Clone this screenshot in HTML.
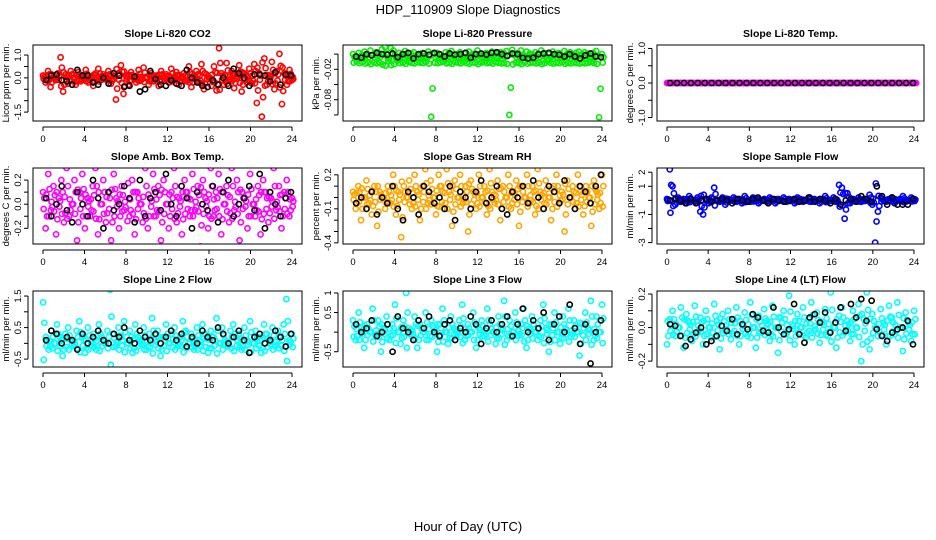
<!DOCTYPE html>
<html><head><meta charset="utf-8">
<style>
body{margin:0;background:#fff;}
svg{display:block;font-family:"Liberation Sans",Arial,sans-serif;}
.t{font-size:10.5px;font-weight:bold;text-anchor:middle;}
.tk{font-size:9.5px;}
</style></head>
<body>
<svg id="chart" width="936" height="540" viewBox="0 0 936 540">
<rect width="936" height="540" fill="#fff"/>
<text x="468" y="14" font-size="13" text-anchor="middle">HDP_110909  Slope Diagnostics</text>
<text x="468" y="531" font-size="13" text-anchor="middle">Hour of Day (UTC)</text>
</svg>
<script>
const xTicks=[0,4,8,12,16,20,24];
const p1Color=[0.1,-0.2,0.3,-0.4,0.05,-0.1,0.2,0.9,-0.6,0.15,-0.25,0.3,0.0,-0.3,0.25,-0.15,0.1,0.35,-0.2,0.05,-0.35,0.2,0.4,-0.1,0.15,-0.05,0.3,-0.25,0.1,-0.95,0.2,0.55,-0.7,0.1,-0.3,0.25,0.0,-0.2,0.35,-0.1,0.45,0.05,-0.3,0.2,-0.15,0.1,-0.35,0.3,0.0,0.15,-0.2,0.4,-0.1,0.25,-0.3,0.05,0.2,-0.15,0.5,-0.4,0.1,0.3,-0.2,0.6,-0.5,0.15,0.0,-0.35,0.5,-0.55,1.3,0.2,-0.3,0.65,-0.1,0.3,-0.45,0.1,0.55,-0.6,0.2,-0.2,0.4,-0.25,0.6,-1.1,0.2,-1.7,0.85,-0.3,0.1,0.7,-0.5,0.3,1.05,-1.15,0.2,-0.3,0.35,-0.1];
const p1Black=[-0.1,0.1,0.15,-0.1,-0.15,-0.3,0.35,0.1,0.1,-0.2,-0.3,0.0,-0.25,0.2,0.1,-0.4,-0.35,0.05,-0.6,-0.5,0.3,-0.05,-0.3,-0.35,-0.1,-0.25,-0.35,0.35,0.0,-0.2,-0.35,-0.4,-0.1,-0.3,0.0,-0.35,0.4,0.2,0.0,-0.35,0.15,0.15,0.1,-0.15,0.25,-0.3,0.15,0.1];
const p2Color=[0.01,0.006,0.012,0.008,0.014,0.01,0.016,0.009,0.013,0.011,0.018,0.022,0.004,0.02,0.016,0.002,0.012,0.01,0.015,0.006,0.011,0.013,0.008,0.01,0.012,0.007,0.014,-0.093,0.01,0.012,0.009,0.004,0.013,0.011,0.015,0.008,0.01,0.013,0.006,0.012,0.014,0.009,0.011,0.016,0.01,0.007,0.012,0.01,0.014,0.008,0.011,0.013,0.012,0.015,-0.09,0.017,0.01,0.012,0.016,0.008,0.014,0.011,0.009,0.013,0.01,0.016,0.012,0.003,0.011,0.014,0.01,0.012,0.008,0.015,0.011,0.013,0.009,0.012,0.014,0.01,0.013,0.011,0.007,0.012,0.015,-0.094,0.01];
const p2Black=[0.006,0.004,0.01,0.008,0.012,0.01,0.009,0.011,0.005,0.01,0.012,0.003,0.01,0.011,0.009,0.012,0.01,0.006,0.011,0.009,0.01,0.012,0.004,0.01,0.011,0.009,0.012,0.013,0.01,0.007,0.011,0.01,0.004,0.003,0.004,0.01,0.011,0.012,0.01,0.009,0.006,0.01,0.006,0.003,0.008,0.011,0.006,0.005];
const p3Color=[0,0,0,0,0,0,0,0,0,0,0,0,0,0,0,0,0,0,0,0,0,0,0,0,0,0,0,0,0,0,0,0,0,0,0,0,0,0,0,0,0,0,0,0,0,0,0,0,0,0,0,0,0,0,0,0,0,0,0,0];
const p3Black=[0,0,0,0,0,0,0,0,0,0,0,0,0,0,0,0,0,0,0,0,0,0,0,0,0,0,0,0,0,0,0,0,0,0,0,0];
const p4Color=[0.1,-0.2,0.25,-0.05,0.15,-0.25,0.05,0.2,-0.15,0.3,-0.1,0.0,0.2,-0.3,0.1,0.25,-0.2,0.05,-0.1,0.15,0.3,-0.25,0.0,0.2,-0.15,0.1,-0.3,0.25,0.05,-0.2,0.15,-0.05,0.35,-0.1,0.2,-0.25,0.1,0.0,-0.15,0.3,-0.2,0.05,0.25,-0.1,0.15,-0.3,0.2,0.0,-0.2,0.1,0.3,-0.15,0.05,-0.25,0.2,0.1,-0.1,0.25,-0.05,0.15,-0.35,0.2,0.05,-0.2,0.3,-0.1,0.1,0.25,-0.25,0.0,0.15,-0.15,0.3,-0.05,0.2,-0.3,0.1,0.05,-0.2,0.25,0.0,-0.1,0.15,-0.25,0.2,0.1,-0.15,0.05,0.3,-0.05,0.15,-0.2,0.1,0.2,-0.1,0.05];
const p4Black=[0.05,-0.1,0.0,0.15,-0.05,-0.15,0.1,0.0,-0.1,0.2,0.05,-0.2,0.1,-0.05,0.0,0.15,0.05,-0.15,0.2,-0.1,0.05,0.1,-0.05,0.25,0.0,-0.1,0.15,0.05,-0.2,0.1,0.0,-0.05,0.15,-0.15,0.1,0.2,-0.1,0.0,0.05,0.15,-0.05,0.25,-0.2,0.1,0.0,-0.1,0.05,0.1];
const p5Color=[0.05,-0.1,0.1,-0.2,0.0,0.15,-0.05,-0.15,0.1,-0.25,0.05,0.0,-0.1,0.1,-0.05,0.2,-0.15,0.05,-0.35,0.1,0.0,0.15,-0.1,0.2,0.05,-0.2,0.1,0.25,-0.05,0.15,0.0,-0.15,0.2,0.1,-0.1,0.25,0.05,-0.25,0.15,0.0,0.2,-0.05,0.1,-0.3,0.15,0.05,-0.1,0.2,0.0,0.1,-0.15,0.25,0.05,-0.05,0.15,-0.2,0.1,0.0,0.2,-0.1,0.05,0.15,-0.25,0.1,0.0,0.2,-0.05,0.1,-0.15,0.25,0.05,-0.1,0.15,0.0,-0.2,0.1,0.2,-0.05,0.05,-0.3,0.15,0.0,0.1,-0.1,0.2,0.05,-0.15,0.1,0.0,-0.25,0.15,0.05,-0.1,0.2];
const p5Black=[-0.05,0.0,-0.1,0.05,-0.15,0.0,-0.05,0.1,-0.1,-0.2,0.05,0.0,-0.15,0.1,0.05,-0.05,0.0,-0.1,0.1,-0.2,0.05,0.0,-0.1,0.05,0.15,-0.05,0.0,0.1,-0.1,-0.15,0.05,0.0,0.1,-0.05,0.15,0.0,-0.1,0.1,0.05,-0.05,0.15,0.0,-0.1,0.1,0.05,-0.05,0.1,0.2];
const p6Color=[0.1,2.2,1.0,-0.3,0.2,-0.1,0.1,-0.2,0.3,0.0,-0.1,0.2,-0.8,-1.0,0.1,-0.2,0.2,0.9,0.0,-0.1,0.2,-0.3,0.1,0.0,0.2,-0.1,0.1,-0.2,0.3,0.0,-0.1,0.2,0.1,-0.2,0.0,0.1,-0.1,0.2,0.0,-0.2,0.1,0.0,0.2,-0.1,0.1,0.0,-0.2,0.2,0.1,-0.1,0.0,0.2,-0.1,0.1,0.0,-0.2,0.1,0.3,-0.1,0.0,0.2,-0.1,1.1,0.9,-1.3,0.5,-0.2,0.1,0.0,0.2,-0.1,0.1,0.0,0.4,-0.3,-3.0,-0.8,0.2,0.0,-0.1,0.1,0.2,-0.2,0.0,0.1,0.3,-0.1,0.0,0.2,0.1];
const p6Black=[0.0,0.1,0.0,-0.2,0.1,-0.2,0.0,0.1,-0.1,0.0,0.1,0.0,-0.2,0.1,0.0,-0.1,0.1,0.2,0.0,-0.2,0.1,0.0,-0.1,0.0,0.1,-0.1,0.0,0.2,-0.1,0.1,0.0,-0.2,0.1,-0.3,0.0,0.1,-0.1,0.3,0.1,-0.1,1.0,0.3,-0.3,0.2,-0.3,-0.3,-0.3,0.1];
const p7Color=[1.3,0.2,-0.2,0.4,0.0,0.6,0.2,-0.4,0.3,0.5,0.1,-0.1,0.4,0.7,0.2,-0.3,0.5,0.1,0.3,-0.2,0.6,0.2,0.0,0.4,1.7,0.3,-0.1,0.5,0.2,0.7,0.0,0.4,-0.3,0.6,0.2,0.1,0.5,-0.2,0.3,0.8,0.1,0.4,-0.4,0.2,0.6,0.0,0.3,0.5,-0.1,0.2,0.7,0.4,0.0,0.3,-0.2,0.5,0.1,0.6,0.3,-0.3,0.4,0.2,0.8,0.0,0.5,0.1,-0.1,0.4,0.6,0.2,0.3,-0.2,0.5,0.1,0.7,0.0,0.4,0.2,-0.3,0.6,0.3,0.1,0.5,-0.1,0.4,0.2,0.6,1.4,0.1,0.3];
const p7Black=[0.1,0.4,0.3,0.0,0.2,0.1,-0.2,0.3,0.0,0.2,0.4,0.1,0.0,0.3,0.2,0.5,0.1,0.0,0.4,0.2,0.1,0.3,0.0,0.2,0.4,0.1,0.3,-0.1,0.2,0.0,0.4,0.2,0.1,0.5,0.3,0.0,0.2,0.4,0.1,-0.3,0.2,0.3,0.0,0.1,0.4,0.2,-0.1,0.3];
const p8Color=[0.3,-0.2,0.5,0.1,-0.4,0.2,0.0,0.6,-0.1,0.3,-0.5,0.1,0.4,-0.2,0.2,0.7,0.0,-0.3,0.3,1.0,0.1,-0.1,0.4,-0.4,0.2,0.0,0.5,-0.2,0.3,0.1,-0.5,0.2,0.6,0.0,-0.3,0.4,0.1,-0.1,0.3,0.7,-0.2,0.2,0.0,0.5,-0.4,0.1,0.3,-0.1,0.6,0.2,0.0,-0.3,0.4,0.1,0.8,-0.2,0.3,0.0,0.5,-0.1,0.2,0.6,-0.4,0.1,0.4,0.0,-0.2,0.3,0.7,0.1,-0.5,0.2,0.5,0.0,-0.3,0.4,0.1,0.6,-0.1,0.3,0.0,-0.6,0.2,0.5,0.1,0.8,-0.2,0.4,0.0,0.7];
const p8Black=[0.2,0.0,0.1,0.3,-0.1,0.0,0.2,-0.5,0.4,0.1,0.0,-0.2,0.3,0.1,0.4,0.0,-0.1,0.2,0.3,-0.2,0.1,0.0,0.4,0.2,-0.3,0.1,0.3,0.0,0.2,0.4,-0.1,0.2,0.6,0.0,0.3,0.1,0.5,-0.2,0.2,0.4,0.0,0.7,0.1,-0.3,0.2,-0.8,0.0,0.3];
const p9Color=[-0.1,0.05,0.1,-0.05,0.0,0.12,-0.12,0.08,0.03,-0.08,0.13,-0.03,0.06,-0.1,0.1,0.0,-0.06,0.14,0.04,-0.13,0.08,-0.02,0.1,-0.07,0.05,0.12,-0.1,0.02,0.09,-0.05,0.15,0.0,-0.12,0.07,-0.03,0.11,0.04,-0.08,0.13,0.0,-0.15,0.06,0.1,-0.04,0.19,0.02,-0.1,0.08,0.0,0.12,-0.06,0.05,0.15,-0.02,0.09,-0.09,0.03,0.11,-0.05,0.21,0.0,-0.12,0.07,0.12,-0.03,0.04,-0.08,0.1,0.0,0.14,-0.2,0.05,0.21,-0.13,0.08,0.0,-0.05,0.11,0.03,-0.1,0.13,0.06,-0.04,0.15,0.0,-0.14,0.09,0.03,-0.08,0.1];
const p9Black=[0.02,0.01,-0.05,-0.11,-0.07,-0.03,0.0,-0.1,-0.08,-0.05,0.01,-0.02,0.05,-0.04,0.02,-0.01,0.08,0.06,-0.02,-0.03,0.12,0.0,-0.04,-0.01,0.14,-0.04,-0.09,0.06,0.08,0.03,0.09,-0.03,0.03,0.12,-0.02,0.14,0.06,0.17,0.04,0.16,-0.01,-0.05,-0.08,-0.03,-0.01,0.0,0.04,-0.1];

const panels=[
 {name:"co2",title:"Slope Li-820 CO2",ylab:"Licor ppm per min.",col:"#ff0000",c:p1Color,b:p1Black,ymin:-1.89,ymax:1.44,ticks:[-1.5,-1,-0.5,0,0.5,1],labels:["-1.5","","","0.0","","1.0"]},
 {name:"pressure",title:"Slope Li-820 Pressure",ylab:"kPa per min.",col:"#00ee00",c:p2Color,b:p2Black,ymin:-0.1,ymax:0.025,ticks:[0.01,-0.015,-0.04,-0.065,-0.09],labels:["","-0.02","","-0.08",""]},
 {name:"temp",title:"Slope Li-820 Temp.",ylab:"degrees C per min.",col:"#ff00ff",c:p3Color,b:p3Black,ymin:-1.1,ymax:1.1,ticks:[-1,-0.5,0,0.5,1],labels:["-1.0","","0.0","","1.0"]},
 {name:"box-temp",title:"Slope Amb. Box Temp.",ylab:"degrees C per min.",col:"#ff00ff",c:p4Color,b:p4Black,ymin:-0.33,ymax:0.3,ticks:[-0.2,-0.1,0,0.1,0.2],labels:["-0.2","","0.0","","0.2"]},
 {name:"rh",title:"Slope Gas Stream RH",ylab:"percent per min.",col:"#ffa500",c:p5Color,b:p5Black,ymin:-0.41,ymax:0.26,ticks:[-0.4,-0.3,-0.2,-0.1,0,0.1,0.2],labels:["-0.4","","","-0.1","","","0.2"]},
 {name:"sample-flow",title:"Slope Sample Flow",ylab:"ml/min per min.",col:"#0000ff",c:p6Color,b:p6Black,ymin:-3.1,ymax:2.3,ticks:[-3,-2,-1,0,1,2],labels:["-3","","-1","","1","2"]},
 {name:"line2-flow",title:"Slope Line 2 Flow",ylab:"ml/min per min.",col:"#00ffff",c:p7Color,b:p7Black,ymin:-0.75,ymax:1.66,ticks:[-0.5,0,0.5,1,1.5],labels:["-0.5","","0.5","","1.5"]},
 {name:"line3-flow",title:"Slope Line 3 Flow",ylab:"ml/min per min.",col:"#00ffff",c:p8Color,b:p8Black,ymin:-0.89,ymax:1.05,ticks:[-0.5,0,0.5,1],labels:["-0.5","","0.5","1"]},
 {name:"line4-flow",title:"Slope Line 4 (LT) Flow",ylab:"ml/min per min.",col:"#00ffff",c:p9Color,b:p9Black,ymin:-0.235,ymax:0.218,ticks:[-0.2,-0.1,0,0.1,0.2],labels:["-0.2","","0.0","","0.2"]}
];
const NS="http://www.w3.org/2000/svg";
const svg=document.getElementById('chart');
const lefts=[33,343,657], widths=[269,269,267], tops=[45,168,291], H=76;
function mk(tag,attrs,parent){const e=document.createElementNS(NS,tag);for(const k in attrs)e.setAttribute(k,attrs[k]);(parent||svg).appendChild(e);return e;}
panels.forEach((p,i)=>{
 const L=lefts[i%3],W=widths[i%3],T=tops[Math.floor(i/3)],B=T+H;
 const g=mk('g',{});
 
 
 const xs=h=>L+10+h*(W-20)/24;
 const ys=v=>B-(v-p.ymin)/(p.ymax-p.ymin)*H;
 const t=mk('text',{x:L+W/2,y:T-8,class:'t'},g);t.textContent=p.title;
 
 
 const yl=mk('text',{x:0,y:0,'font-size':9.5,'text-anchor':'middle',transform:`translate(${L-24},${(T+B)/2}) rotate(-90)`},g);yl.textContent=p.ylab;
 
 
 const cp=mk('clipPath',{id:'clip'+i},g);
 mk('rect',{x:L,y:T,width:W,height:H},cp);
 const pts=mk('g',{fill:'none','stroke-width':1.6,'clip-path':`url(#clip${i})`},g);
 
 
 const n=p.c.length-1;
 p.c.forEach((v,k)=>{const c=mk('circle',{cx:xs(k*24/n),cy:ys(v),r:2.6,stroke:p.col},pts);
  
  });
 p.c.forEach((v,k)=>{const c=mk('circle',{cx:xs((k+0.5)*24/n),cy:ys(v*0.5),r:2.6,stroke:p.col},pts);
  
  });
 p.c.forEach((v,k)=>{const c=mk('circle',{cx:xs((k+0.25)*24/n),cy:ys(-v*0.4),r:2.6,stroke:p.col},pts);
  
  });
 p.b.forEach((v,k)=>{const c=mk('circle',{cx:xs(0.3+k*23.6/(p.b.length-1)),cy:ys(v),r:2.6,stroke:'#000'},pts);
  
  });
 const fr=mk('rect',{x:L,y:T,width:W,height:H,fill:'none',stroke:'#000','stroke-width':1},g);
 
 
 mk('line',{x1:xs(0),x2:xs(24),y1:B+6,y2:B+6,stroke:'#000'},g);
 xTicks.forEach(h=>{mk('line',{x1:xs(h),x2:xs(h),y1:B+6,y2:B+10,stroke:'#000'},g);
  const tl=mk('text',{x:xs(h),y:B+21,class:'tk','text-anchor':'middle'},g);tl.textContent=h;
  
  });
 mk('line',{x1:L-5,x2:L-5,y1:ys(p.ticks[0]),y2:ys(p.ticks[p.ticks.length-1]),stroke:'#000'},g);
 p.ticks.forEach((v,k)=>{const y=ys(v);mk('line',{x1:L-9,x2:L-5,y1:y,y2:y,stroke:'#000'},g);
  if(p.labels[k]){const tl=mk('text',{x:0,y:0,class:'tk','text-anchor':'middle',transform:`translate(${L-12},${y}) rotate(-90)`},g);tl.textContent=p.labels[k];
  
  }});
});
</script>
</body></html>
